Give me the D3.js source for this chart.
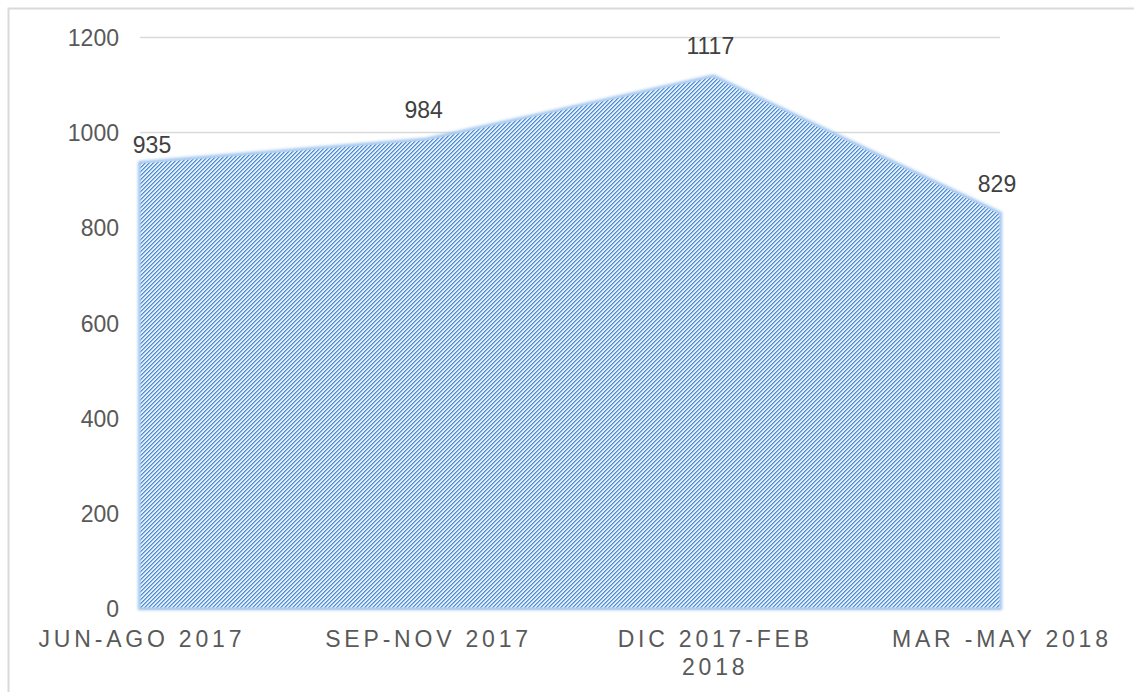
<!DOCTYPE html>
<html>
<head>
<meta charset="utf-8">
<script src="https://cdn.jsdelivr.net/npm/d3@7"></script>
<style>
  body { margin: 0; background: #fff; }
  text { font-family: "Liberation Sans", Arial, sans-serif; }
</style>
</head>
<body>
<svg id="chart"></svg>
<script>
// periodos y valores
const periods = [["JUN-AGO 2017"], ["SEP-NOV 2017"], ["DIC 2017-FEB", "2018"], ["MAR -MAY 2018"]];
const values = [935, 984, 1117, 829];
const yTicks = [0, 200, 400, 600, 800, 1000, 1200];

const W = 1134, H = 692;
const svg = d3.select("#chart")
  .attr("width", W)
  .attr("height", H)
  .attr("viewBox", [0, 0, W, H]);

// marco exterior
svg.append("rect")
  .attr("x", 8.5).attr("y", 8.5)
  .attr("width", W + 20).attr("height", H + 20)
  .attr("fill", "none")
  .attr("stroke", "#d9d9d9")
  .attr("stroke-width", 2);

const x = d3.scalePoint()
  .domain(d3.range(values.length))
  .range([140, 1000]);

const y = d3.scaleLinear()
  .domain([0, 1200])
  .range([608, 37]);

// trama diagonal
const defs = svg.append("defs");
const pat = defs.append("pattern")
  .attr("id", "hatch")
  .attr("patternUnits", "userSpaceOnUse")
  .attr("width", 4).attr("height", 4);
pat.append("rect").attr("width", 4).attr("height", 4).attr("fill", "#e2edf9");
pat.selectAll("rect.px")
  .data([[3, 0], [2, 1], [1, 2], [0, 3], [0, 0], [3, 1], [2, 2], [1, 3]])
  .join("rect")
  .attr("class", "px")
  .attr("x", d => d[0]).attr("y", d => d[1])
  .attr("width", 1).attr("height", 1)
  .attr("shape-rendering", "crispEdges")
  .attr("fill", (d, i) => i < 4 ? "#4a8ad2" : "#8fbbe8");

defs.append("filter").attr("id", "soft")
  .append("feGaussianBlur").attr("stdDeviation", 1.6);

// lineas de cuadricula
svg.append("g")
  .selectAll("line")
  .data(yTicks)
  .join("line")
  .attr("x1", 140).attr("x2", 1000)
  .attr("y1", d => Math.round(y(d)) + 0.5)
  .attr("y2", d => Math.round(y(d)) + 0.5)
  .attr("stroke", "#d9d9d9")
  .attr("stroke-width", d => d === 0 ? 2 : 1.5);

// etiquetas eje y
svg.append("g")
  .selectAll("text")
  .data(yTicks)
  .join("text")
  .attr("x", 119)
  .attr("y", d => y(d) + 9)
  .attr("text-anchor", "end")
  .attr("font-size", 23)
  .attr("fill", "#595959")
  .text(d => d);

const area = d3.area()
  .x((d, i) => x(i))
  .y0(y(0))
  .y1(d => y(d));

svg.append("path")
  .datum(values)
  .attr("d", area)
  .attr("fill", "none")
  .attr("stroke", "#9cc3ec")
  .attr("stroke-width", 4)
  .attr("filter", "url(#soft)");

svg.append("path")
  .datum(values)
  .attr("d", area)
  .attr("fill", "url(#hatch)")
  .attr("stroke", "#b3d0f0")
  .attr("stroke-width", 1.5)
  .attr("stroke-opacity", 0.8);

// etiquetas de datos
svg.append("g")
  .selectAll("text")
  .data(values)
  .join("text")
  .attr("x", (d, i) => x(i) + (i === 0 ? 12 : -3))
  .attr("y", (d, i) => y(d) - (i === 0 ? 10 : 22))
  .attr("text-anchor", "middle")
  .attr("font-size", 23)
  .attr("fill", "#404040")
  .text(d => d);

// etiquetas eje x
const ls = 3.8;
const xl = svg.append("g")
  .selectAll("text")
  .data(periods)
  .join("text")
  .attr("text-anchor", "middle")
  .attr("font-size", 23)
  .attr("letter-spacing", ls)
  .attr("fill", "#595959");
xl.selectAll("tspan")
  .data((d, i) => d.map((t, j) => ({ t, j, i })))
  .join("tspan")
  .attr("x", d => x(d.i) + ls / 2)
  .attr("y", d => 647 + d.j * 28)
  .text(d => d.t);
</script>
</body>
</html>
